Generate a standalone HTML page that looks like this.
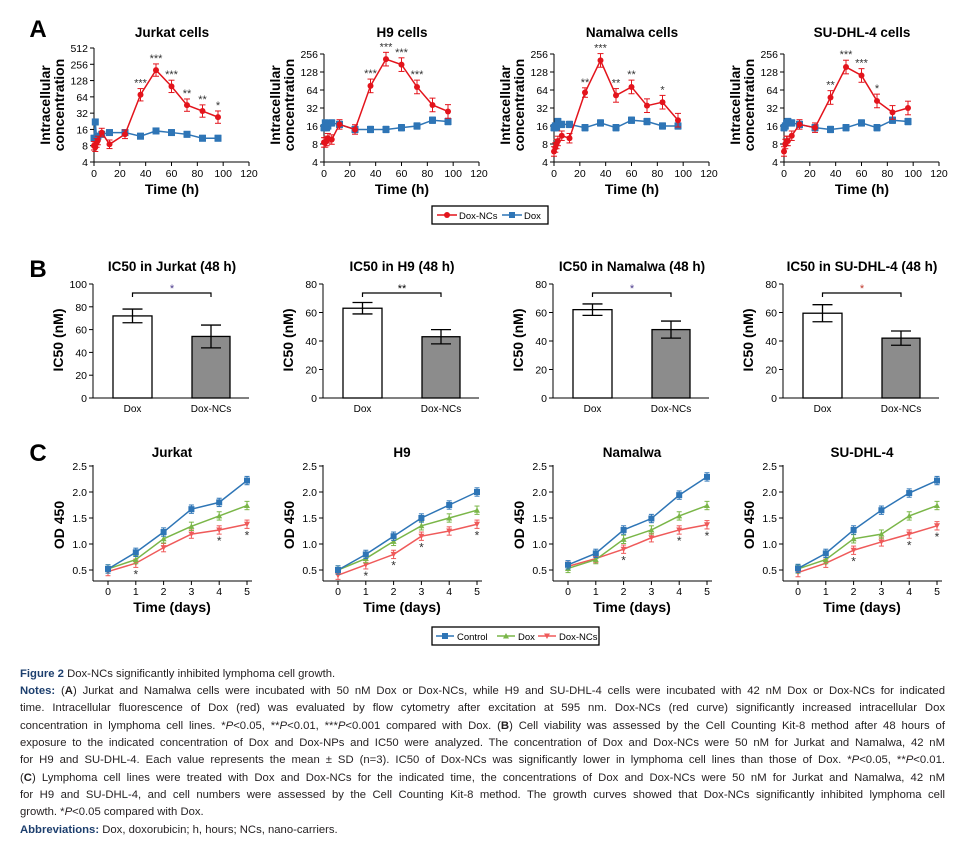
<!DOCTYPE html>
<html><head><meta charset="utf-8"><style>
body{margin:0;background:#fff;width:963px;height:842px;overflow:hidden;position:relative;font-family:"Liberation Sans",sans-serif}
svg{position:absolute;left:0;top:0}
.cap{position:absolute;left:20px;width:925px;font-size:11.3px;color:#231f20;text-align:justify;text-align-last:justify;white-space:nowrap;line-height:14px}
.cap.l{text-align-last:left}
.b{font-weight:bold;color:#1d3f6e}
</style></head><body>
<svg id="s" width="963" height="842" xmlns="http://www.w3.org/2000/svg" font-family="Liberation Sans, sans-serif"></svg>
<div class="cap l" style="top:667px"><span class="b">Figure 2</span> Dox-NCs significantly inhibited lymphoma cell growth.</div>
<div class="cap" style="top:684px"><span class="b">Notes:</span> (<b>A</b>) Jurkat and Namalwa cells were incubated with 50 nM Dox or Dox-NCs, while H9 and SU-DHL-4 cells were incubated with 42 nM Dox or Dox-NCs for indicated</div>
<div class="cap" style="top:701px">time. Intracellular fluorescence of Dox (red) was evaluated by flow cytometry after excitation at 595 nm. Dox-NCs (red curve) significantly increased intracellular Dox</div>
<div class="cap" style="top:719px">concentration in lymphoma cell lines. *<i>P</i>&lt;0.05, **<i>P</i>&lt;0.01, ***<i>P</i>&lt;0.001 compared with Dox. (<b>B</b>) Cell viability was assessed by the Cell Counting Kit-8 method after 48 hours of</div>
<div class="cap" style="top:736px">exposure to the indicated concentration of Dox and Dox-NPs and IC50 were analyzed. The concentration of Dox and Dox-NCs were 50 nM for Jurkat and Namalwa, 42 nM</div>
<div class="cap" style="top:753px">for H9 and SU-DHL-4. Each value represents the mean ± SD (n=3). IC50 of Dox-NCs was significantly lower in lymphoma cell lines than those of Dox. *<i>P</i>&lt;0.05, **<i>P</i>&lt;0.01.</div>
<div class="cap" style="top:771px">(<b>C</b>) Lymphoma cell lines were treated with Dox and Dox-NCs for the indicated time, the concentrations of Dox and Dox-NCs were 50 nM for Jurkat and Namalwa, 42 nM</div>
<div class="cap" style="top:788px">for H9 and SU-DHL-4, and cell numbers were assessed by the Cell Counting Kit-8 method. The growth curves showed that Dox-NCs significantly inhibited lymphoma cell</div>
<div class="cap l" style="top:805px">growth. *<i>P</i>&lt;0.05 compared with Dox.</div>
<div class="cap l" style="top:823px"><span class="b">Abbreviations:</span> Dox, doxorubicin; h, hours; NCs, nano-carriers.</div>
<script>
var S=document.getElementById('s'),h='';
function L(x1,y1,x2,y2,c,w){h+='<line x1="'+x1+'" y1="'+y1+'" x2="'+x2+'" y2="'+y2+'" stroke="'+(c||'#000')+'" stroke-width="'+(w||1)+'"/>';}
function T(x,y,t,o){o=o||{};h+='<text x="'+x+'" y="'+y+'" font-size="'+(o.s||11)+'" text-anchor="'+(o.a||'middle')+'"'+(o.b?' font-weight="bold"':'')+' fill="'+(o.c||'#000')+'"'+(o.r?' transform="rotate(-90 '+x+' '+y+')"':'')+'>'+t+'</text>';}
function P(pts,c,w){h+='<polyline points="'+pts.map(p=>p.join(',')).join(' ')+'" fill="none" stroke="'+c+'" stroke-width="'+(w||1.5)+'"/>';}
function R(x,y,w,hh,f,st){h+='<rect x="'+x+'" y="'+y+'" width="'+w+'" height="'+hh+'" fill="'+f+'"'+(st?' stroke="'+st+'" stroke-width="1.3"':'')+'/>';}
T(38,37,'A',{s:24,b:1});T(38,277,'B',{s:24,b:1});T(38,461,'C',{s:24,b:1});
var hrs=[0,1,2,3,6,12,24,36,48,60,72,84,96];
var A=[
{t:'Jurkat cells',top:512,red:[8,7.5,9,10,14,8.5,13,70,200,100,45,35,27],blue:[11,22,11,12,13,14,14,12,15,14,13,11,11],st:{36:'***',48:'***',60:'***',72:'**',84:'**',96:'*'}},
{t:'H9 cells',top:256,red:[8.5,8.5,9,10,9.5,17,14,75,210,170,72,36,28],blue:[15,18,15,16,18,17,14,14,14,15,16,20,19],st:{36:'***',48:'***',60:'***',72:'***'}},
{t:'Namalwa cells',top:256,red:[6,7,8,9,11,10,58,200,52,72,35,40,20],blue:[15,16,15,19,17,17,15,18,15,20,19,16,16],st:{24:'**',36:'***',48:'**',60:'**',84:'*'}},
{t:'SU-DHL-4 cells',top:256,red:[6,8,9,9,11,17,15,48,155,112,42,27,32],blue:[15,16,18,19,18,17,15,14,15,18,15,20,19],st:{36:'**',48:'***',60:'***',72:'*'}}];
A.forEach(function(p,i){
 var ox=94+230*i,ytop=p.top==512?48:54,n=Math.log2(p.top/4),step=(162-ytop)/n;
 var X=v=>ox+v*155/120,Y=v=>162-Math.log2(v/4)*step;
 var cx=ox+78;
 T(cx,37,p.t,{s:13.5,b:1});
 L(ox,ytop,ox,162);L(ox,162,X(120),162);
 for(var k=0;k<=n;k++){var yy=162-k*step;L(ox-4,yy,ox,yy);T(ox-6,yy+4,Math.pow(2,k+2),{s:10.5,a:'end'});}
 for(var t=0;t<=120;t+=20){L(X(t),162,X(t),166);T(X(t),177,t,{s:10.5});}
 T(cx,194,'Time (h)',{s:14,b:1});
 T(ox-44,105,'Intracellular',{s:14,b:1,r:1});T(ox-30,105,'concentration',{s:14,b:1,r:1});
 var bp=[],rp=[];
 hrs.forEach(function(t,j){bp.push([X(t),Y(p.blue[j])]);rp.push([X(t),Y(p.red[j])]);});
 P(bp,'#2e75b6');
 bp.forEach(function(q,j){var v=p.blue[j];L(q[0],Y(v*1.13),q[0],Y(v/1.13),'#2e75b6');L(q[0]-3,Y(v*1.13),q[0]+3,Y(v*1.13),'#2e75b6');L(q[0]-3,Y(v/1.13),q[0]+3,Y(v/1.13),'#2e75b6');R(q[0]-3.5,q[1]-3.5,7,7,'#2e75b6');});
 P(rp,'#e3141c');
 rp.forEach(function(q,j){var v=p.red[j],f=j>6?1.3:1.2;L(q[0],Y(v*f),q[0],Y(v/f),'#e3141c');L(q[0]-3,Y(v*f),q[0]+3,Y(v*f),'#e3141c');L(q[0]-3,Y(v/f),q[0]+3,Y(v/f),'#e3141c');h+='<circle cx="'+q[0]+'" cy="'+q[1]+'" r="3" fill="#e3141c"/>';
  if(p.st[hrs[j]])T(q[0],Y(v*f)-2,p.st[hrs[j]],{s:11,c:'#333'});});
});
R(432,206,116,18,'#fff','#000');
L(437,215,457,215,'#e3141c',1.5);h+='<circle cx="447" cy="215" r="3" fill="#e3141c"/>';T(459,219,'Dox-NCs',{s:9.5,a:'start'});
L(502,215,522,215,'#2e75b6',1.5);R(509,212,6,6,'#2e75b6');T(524,219,'Dox',{s:9.5,a:'start'});
var B=[{t:'IC50 in Jurkat (48 h)',max:100,a:[72,6],b:[54,10],s:'*',sc:'#4b3a8c'},
{t:'IC50 in H9 (48 h)',max:80,a:[63,4],b:[43,5],s:'**',sc:'#000'},
{t:'IC50 in Namalwa (48 h)',max:80,a:[62,4],b:[48,6],s:'*',sc:'#4b3a8c'},
{t:'IC50 in SU-DHL-4 (48 h)',max:80,a:[59.5,6],b:[42,5],s:'*',sc:'#c0392b'}];
B.forEach(function(p,i){
 var ox=93+230*i,Y=v=>398-v*114/p.max,cx=ox+79;
 T(cx,271,p.t,{s:13.5,b:1});
 L(ox,284,ox,398);L(ox,398,ox+156,398);
 for(var v=0;v<=p.max;v+=20){L(ox-4,Y(v),ox,Y(v));T(ox-6,Y(v)+4,v,{s:10.5,a:'end'});}
 R(ox+20,Y(p.a[0]),39,398-Y(p.a[0]),'#fff','#000');
 R(ox+99,Y(p.b[0]),38,398-Y(p.b[0]),'#8c8c8c','#000');
 [[ox+39.5,p.a],[ox+118,p.b]].forEach(function(q){var c=q[0],m=q[1];L(c,Y(m[0]+m[1]),c,Y(m[0]-m[1]),'#000',1.3);L(c-10,Y(m[0]+m[1]),c+10,Y(m[0]+m[1]),'#000',1.3);L(c-10,Y(m[0]-m[1]),c+10,Y(m[0]-m[1]),'#000',1.3);});
 h+='<polyline points="'+(ox+39.5)+',297 '+(ox+39.5)+',293 '+(ox+118)+',293 '+(ox+118)+',297" fill="none" stroke="#000" stroke-width="1.2"/>';
 T(ox+79,292,p.s,{s:11,c:p.sc});
 T(ox+39.5,412,'Dox',{s:10});T(ox+118,412,'Dox-NCs',{s:10});
 T(ox-30,340,'IC50 (nM)',{s:14,b:1,r:1});
});
var C=[{t:'Jurkat',c:[.52,.84,1.23,1.67,1.80,2.22],d:[.52,.70,1.10,1.34,1.54,1.74],n:[.47,.63,.93,1.19,1.27,1.38],s:[1,4,5]},
{t:'H9',c:[.5,.8,1.15,1.5,1.75,2.0],d:[.5,.72,1.05,1.35,1.5,1.65],n:[.4,.6,.8,1.15,1.25,1.38],s:[1,2,3,5]},
{t:'Namalwa',c:[.6,.82,1.27,1.49,1.94,2.29],d:[.53,.70,1.09,1.27,1.54,1.74],n:[.57,.72,.90,1.12,1.27,1.37],s:[2,4,5]},
{t:'SU-DHL-4',c:[.53,.82,1.27,1.65,1.98,2.22],d:[.52,.70,1.10,1.19,1.54,1.74],n:[.45,.63,.88,1.04,1.19,1.35],s:[2,4,5]}];
var cb='#2e75b6',cg='#7ab648',cr='#ef5a5a';
C.forEach(function(p,i){
 var ox=93+230*i,X=d=>ox+15+d*27.8,Y=v=>570-(v-.5)*52,cx=ox+79;
 T(cx,457,p.t,{s:13.5,b:1});
 L(ox,465,ox,581);L(ox,581,ox+159,581);
 [.5,1,1.5,2,2.5].forEach(v=>{L(ox-4,Y(v),ox,Y(v));T(ox-6,Y(v)+4,v.toFixed(1),{s:10.5,a:'end'});});
 for(var d=0;d<=5;d++){L(X(d),581,X(d),585);T(X(d),595,d,{s:10.5});}
 T(cx,612,'Time (days)',{s:14,b:1});
 T(ox-29,525,'OD 450',{s:14,b:1,r:1});
 [[p.n,cr,'n'],[p.d,cg,'d'],[p.c,cb,'c']].forEach(function(sr){
  var pts=sr[0].map((v,d)=>[X(d),Y(v)]);P(pts,sr[1],1.5);
  pts.forEach(function(q,d){var e=0.08;L(q[0],Y(sr[0][d]+e),q[0],Y(sr[0][d]-e),sr[1]);L(q[0]-2.5,Y(sr[0][d]+e),q[0]+2.5,Y(sr[0][d]+e),sr[1]);L(q[0]-2.5,Y(sr[0][d]-e),q[0]+2.5,Y(sr[0][d]-e),sr[1]);
   if(sr[2]=='c')R(q[0]-3,q[1]-3,6,6,sr[1]);
   else if(sr[2]=='d')h+='<polygon points="'+(q[0]-3)+','+(q[1]+2.5)+' '+(q[0]+3)+','+(q[1]+2.5)+' '+q[0]+','+(q[1]-3)+'" fill="'+sr[1]+'"/>';
   else h+='<polygon points="'+(q[0]-3)+','+(q[1]-2.5)+' '+(q[0]+3)+','+(q[1]-2.5)+' '+q[0]+','+(q[1]+3)+'" fill="'+sr[1]+'"/>';});
 });
 p.s.forEach(d=>T(X(d),Y(p.n[d]-0.08)+11,'*',{s:12,c:'#333'}));
});
R(432,627,167,18,'#fff','#000');
L(436,636,454,636,cb,1.5);R(442,633,6,6,cb);T(457,640,'Control',{s:9.5,a:'start'});
L(497,636,515,636,cg,1.5);h+='<polygon points="503,638.5 509,638.5 506,633" fill="'+cg+'"/>';T(518,640,'Dox',{s:9.5,a:'start'});
L(538,636,556,636,cr,1.5);h+='<polygon points="544,633.5 550,633.5 547,639" fill="'+cr+'"/>';T(559,640,'Dox-NCs',{s:9.5,a:'start'});
S.innerHTML=h;
</script>
</body></html>
